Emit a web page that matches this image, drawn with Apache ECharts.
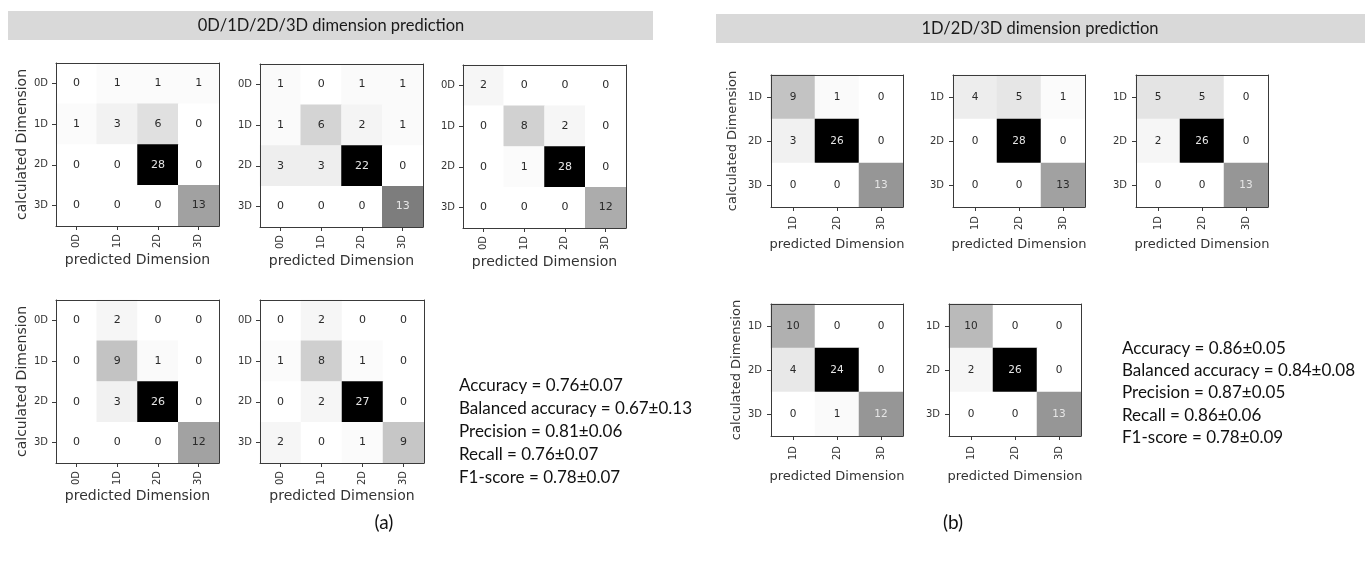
<!DOCTYPE html>
<html><head><meta charset="utf-8">
<script src="https://cdn.jsdelivr.net/npm/echarts@6/dist/echarts.min.js"></script>
<style>html,body{margin:0;padding:0;background:#fff}#c{width:1365px;height:562px}</style>
</head><body><div id="c"></div>
<script>
// ---- data ----
const dims4 = ['0D', '1D', '2D', '3D'];
const dims3 = ['1D', '2D', '3D'];
// rows = calculated Dimension, columns = predicted Dimension
const cmA1 = [[0, 1, 1, 1], [1, 3, 6, 0], [0, 0, 28, 0], [0, 0, 0, 13]];
const cmA2 = [[1, 0, 1, 1], [1, 6, 2, 1], [3, 3, 22, 0], [0, 0, 0, 13]];
const cmA3 = [[2, 0, 0, 0], [0, 8, 2, 0], [0, 1, 28, 0], [0, 0, 0, 12]];
const cmA4 = [[0, 2, 0, 0], [0, 9, 1, 0], [0, 3, 26, 0], [0, 0, 0, 12]];
const cmA5 = [[0, 2, 0, 0], [1, 8, 1, 0], [0, 2, 27, 0], [2, 0, 1, 9]];
const cmB1 = [[9, 1, 0], [3, 26, 0], [0, 0, 13]];
const cmB2 = [[4, 5, 1], [0, 28, 0], [0, 0, 13]];
const cmB3 = [[5, 5, 0], [2, 26, 0], [0, 0, 13]];
const cmB4 = [[10, 0, 0], [4, 24, 0], [0, 1, 12]];
const cmB5 = [[10, 0, 0], [2, 26, 0], [0, 0, 13]];
const titleA = '0D/1D/2D/3D dimension prediction';
const titleB = '1D/2D/3D dimension prediction';
const metricsA = ['Accuracy = 0.76±0.07', 'Balanced accuracy = 0.67±0.13', 'Precision = 0.81±0.06', 'Recall = 0.76±0.07', 'F1-score = 0.78±0.07'];
const metricsB = ['Accuracy = 0.86±0.05', 'Balanced accuracy = 0.84±0.08', 'Precision = 0.87±0.05', 'Recall = 0.86±0.06', 'F1-score = 0.78±0.09'];
const panelTags = ['(a)', '(b)'];
const xName = 'predicted Dimension';
const yName = 'calculated Dimension';

// ---- layout / style ----
const greys = ['#ffffff', '#f0f0f0', '#d9d9d9', '#bdbdbd', '#969696', '#737373', '#525252', '#252525', '#000000'];
const mpl = 'DejaVu Sans';
const office = 'Lato';
const panels = [
  { cm: cmA1, cats: dims4, box: [56, 63, 163, 163], showY: true, yGap: 27, xGap: 27, tfs: 10, cfs: 11, nfs: 14, xm: 8, ym: 8 },
  { cm: cmA2, cats: dims4, box: [260, 64, 163, 163], showY: false, xGap: 27, tfs: 10, cfs: 11, nfs: 14, xm: 8, ym: 8 },
  { cm: cmA3, cats: dims4, box: [463, 65, 163, 163], showY: false, xGap: 27, tfs: 10, cfs: 11, nfs: 14, xm: 8, ym: 8 },
  { cm: cmA4, cats: dims4, box: [56, 300, 163, 163], showY: true, yGap: 27, xGap: 25, tfs: 10, cfs: 11, nfs: 14, xm: 8, ym: 8 },
  { cm: cmA5, cats: dims4, box: [260, 300, 164, 163], showY: false, xGap: 25, tfs: 10, cfs: 11, nfs: 14, xm: 8, ym: 8 },
  { cm: cmB1, cats: dims3, box: [771, 75, 132, 132], showY: true, yGap: 32, xGap: 31, tfs: 10, cfs: 10.5, nfs: 13, xm: 9, ym: 9 },
  { cm: cmB2, cats: dims3, box: [953, 75, 132, 132], showY: false, xGap: 31, tfs: 10, cfs: 10.5, nfs: 13, xm: 9, ym: 9 },
  { cm: cmB3, cats: dims3, box: [1136, 75, 132, 132], showY: false, xGap: 31, tfs: 10, cfs: 10.5, nfs: 13, xm: 9, ym: 9 },
  { cm: cmB4, cats: dims3, box: [771, 304, 132, 132], showY: true, yGap: 28, xGap: 34, tfs: 10, cfs: 10.5, nfs: 13, xm: 10, ym: 9 },
  { cm: cmB5, cats: dims3, box: [949, 304, 132, 132], showY: false, xGap: 34, tfs: 10, cfs: 10.5, nfs: 13, xm: 10, ym: 9 }
];

const grid = [], xAxis = [], yAxis = [], series = [], visualMap = [];
const lineCol = '#3a3a3a';
panels.forEach((p, i) => {
  grid.push({ left: p.box[0], top: p.box[1], width: p.box[2], height: p.box[3] });
  const max = Math.max(...p.cm.flat());
  const line = { show: true, onZero: false, lineStyle: { color: lineCol, width: 1 } };
  xAxis.push({
    type: 'category', gridIndex: i, data: p.cats, position: 'bottom', z: 5,
    axisLine: line,
    axisTick: { show: true, alignWithLabel: true, length: 4, lineStyle: { color: lineCol } },
    axisLabel: { rotate: 90, margin: p.xm, fontSize: p.tfs, color: '#333', fontFamily: mpl },
    splitLine: { show: false },
    name: xName, nameLocation: 'middle', nameGap: p.xGap,
    nameTextStyle: { fontSize: p.nfs, color: '#333', fontFamily: mpl }
  });
  xAxis.push({
    type: 'category', gridIndex: i, data: p.cats, position: 'top', z: 5,
    axisLine: line, axisTick: { show: false }, axisLabel: { show: false }, splitLine: { show: false }
  });
  yAxis.push({
    type: 'category', gridIndex: i, data: p.cats, inverse: true, position: 'left', z: 5,
    axisLine: line,
    axisTick: { show: true, alignWithLabel: true, length: 4, lineStyle: { color: lineCol } },
    axisLabel: { margin: p.ym, fontSize: p.tfs, color: '#333', fontFamily: mpl },
    splitLine: { show: false },
    name: p.showY ? yName : '', nameLocation: 'middle', nameRotate: 90, nameGap: p.yGap || 20,
    nameTextStyle: { fontSize: p.nfs, color: '#333', fontFamily: mpl }
  });
  yAxis.push({
    type: 'category', gridIndex: i, data: p.cats, inverse: true, position: 'right', z: 5,
    axisLine: line, axisTick: { show: false }, axisLabel: { show: false }, splitLine: { show: false }
  });
  const data = [];
  p.cm.forEach((row, r) => row.forEach((v, c) => {
    data.push({ value: [c, r, v], label: { color: v < max / 2 ? '#2a2a2a' : '#e6e6e6' } });
  }));
  series.push({
    type: 'heatmap', xAxisIndex: 2 * i, yAxisIndex: 2 * i, data,
    label: { show: true, fontSize: p.cfs, fontFamily: mpl, formatter: (d) => String(d.value[2]) },
    itemStyle: { borderWidth: 0 },
    emphasis: { disabled: true }
  });
  visualMap.push({ type: 'continuous', show: false, seriesIndex: i, dimension: 2, min: 0, max, inRange: { color: greys } });
});

const graphic = [
  { type: 'rect', shape: { x: 8, y: 11, width: 645, height: 29 }, style: { fill: '#d9d9d9' }, z: 0 },
  { type: 'rect', shape: { x: 716, y: 14, width: 649, height: 29 }, style: { fill: '#d9d9d9' }, z: 0 },
  { type: 'text', x: 331, y: 25.5, style: { text: titleA, fill: '#1a1a1a', font: '16.5px ' + office, align: 'center', verticalAlign: 'middle' }, z: 1 },
  { type: 'text', x: 1040, y: 28.5, style: { text: titleB, fill: '#1a1a1a', font: '16.5px ' + office, align: 'center', verticalAlign: 'middle' }, z: 1 },
  { type: 'text', x: 459, y: 374, style: { text: metricsA.join('\n'), fill: '#111', font: '17px ' + office, lineHeight: 23, align: 'left', verticalAlign: 'top' } },
  { type: 'text', x: 1122, y: 337, style: { text: metricsB.join('\n'), fill: '#111', font: '17px ' + office, lineHeight: 22.3, align: 'left', verticalAlign: 'top' } },
  { type: 'text', x: 384, y: 523, style: { text: panelTags[0], fill: '#111', font: '19px ' + office, align: 'center', verticalAlign: 'middle' } },
  { type: 'text', x: 953, y: 523, style: { text: panelTags[1], fill: '#111', font: '19px ' + office, align: 'center', verticalAlign: 'middle' } }
];

const chart = echarts.init(document.getElementById('c'), null, { renderer: 'canvas' });
chart.setOption({ animation: false, backgroundColor: '#ffffff', grid, xAxis, yAxis, series, visualMap, graphic });
</script></body></html>
